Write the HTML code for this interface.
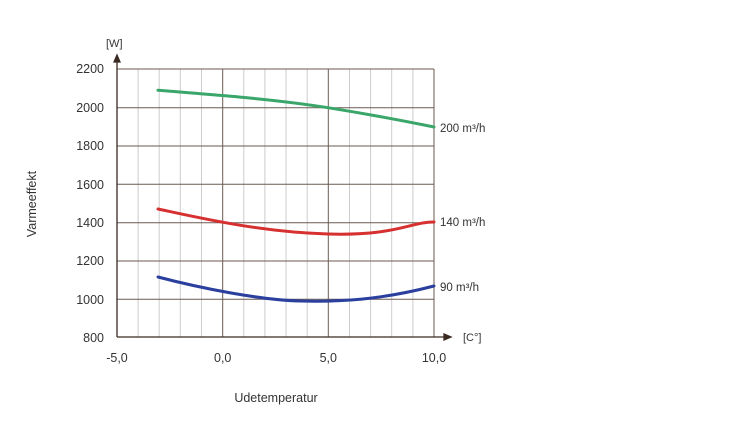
<!DOCTYPE html>
<html><head><style>body{margin:0;background:#fff}svg text{font-family:"Liberation Sans",sans-serif;fill:#333}</style></head><body>
<svg width="750" height="436" viewBox="0 0 750 436">
<g stroke="#ccc" stroke-width="1">
<line x1="138.1" y1="69" x2="138.1" y2="337"/><line x1="159.2" y1="69" x2="159.2" y2="337"/><line x1="180.3" y1="69" x2="180.3" y2="337"/><line x1="201.5" y1="69" x2="201.5" y2="337"/>
<line x1="243.8" y1="69" x2="243.8" y2="337"/><line x1="264.9" y1="69" x2="264.9" y2="337"/><line x1="286" y1="69" x2="286" y2="337"/><line x1="307.2" y1="69" x2="307.2" y2="337"/>
<line x1="349.5" y1="69" x2="349.5" y2="337"/><line x1="370.6" y1="69" x2="370.6" y2="337"/><line x1="391.7" y1="69" x2="391.7" y2="337"/><line x1="412.9" y1="69" x2="412.9" y2="337"/>
</g>
<g stroke="#6b5a52" stroke-width="1">
<line x1="222.7" y1="69" x2="222.7" y2="337"/><line x1="328.3" y1="69" x2="328.3" y2="337"/><line x1="434" y1="69" x2="434" y2="337"/>
<line x1="117" y1="69" x2="434" y2="69"/><line x1="117" y1="107.7" x2="434" y2="107.7"/><line x1="117" y1="146" x2="434" y2="146"/><line x1="117" y1="184.3" x2="434" y2="184.3"/><line x1="117" y1="222.7" x2="434" y2="222.7"/><line x1="117" y1="261" x2="434" y2="261"/><line x1="117" y1="299.3" x2="434" y2="299.3"/>
</g>
<g stroke="#3a2a22" stroke-width="1.3" fill="#3a2a22">
<line x1="117" y1="337" x2="446" y2="337"/><line x1="117" y1="337" x2="117" y2="60"/>
<polygon points="117,55 114,62 120,62"/><polygon points="451,337 444,334 444,340"/>
</g>
<g fill="none" stroke-width="3" stroke-linecap="round">
<path d="M158,90.3 C230,96 280,100 328,107.7 S400,120 434,127" stroke="#3aa66a"/>
<path d="M158,209 C200,218 260,232 328,234 S410,222 434,222" stroke="#d63030"/>
<path d="M158,277 C200,288 260,300 300,301 S380,300 434,286" stroke="#2a3f9e"/>
</g>
<g font-size="12.5" text-anchor="end">
<text x="104" y="73">2200</text><text x="104" y="112">2000</text><text x="104" y="150">1800</text><text x="104" y="189">1600</text><text x="104" y="227">1400</text><text x="104" y="265">1200</text><text x="104" y="304">1000</text><text x="104" y="342">800</text>
</g>
<g font-size="12.5" text-anchor="middle">
<text x="117" y="362">-5,0</text><text x="222.7" y="362">0,0</text><text x="328.3" y="362">5,0</text><text x="434" y="362">10,0</text>
<text x="276" y="402">Udetemperatur</text>
</g>
<text x="106" y="47" font-size="11">[W]</text>
<text x="463" y="341" font-size="11">[C°]</text>
<text x="440" y="132" font-size="11.5">200 m³/h</text>
<text x="440" y="226" font-size="11.5">140 m³/h</text>
<text x="440" y="291" font-size="11.5">90 m³/h</text>
<text transform="translate(36,204) rotate(-90)" font-size="12.5" text-anchor="middle">Varmeeffekt</text>
</svg>
</body></html>
